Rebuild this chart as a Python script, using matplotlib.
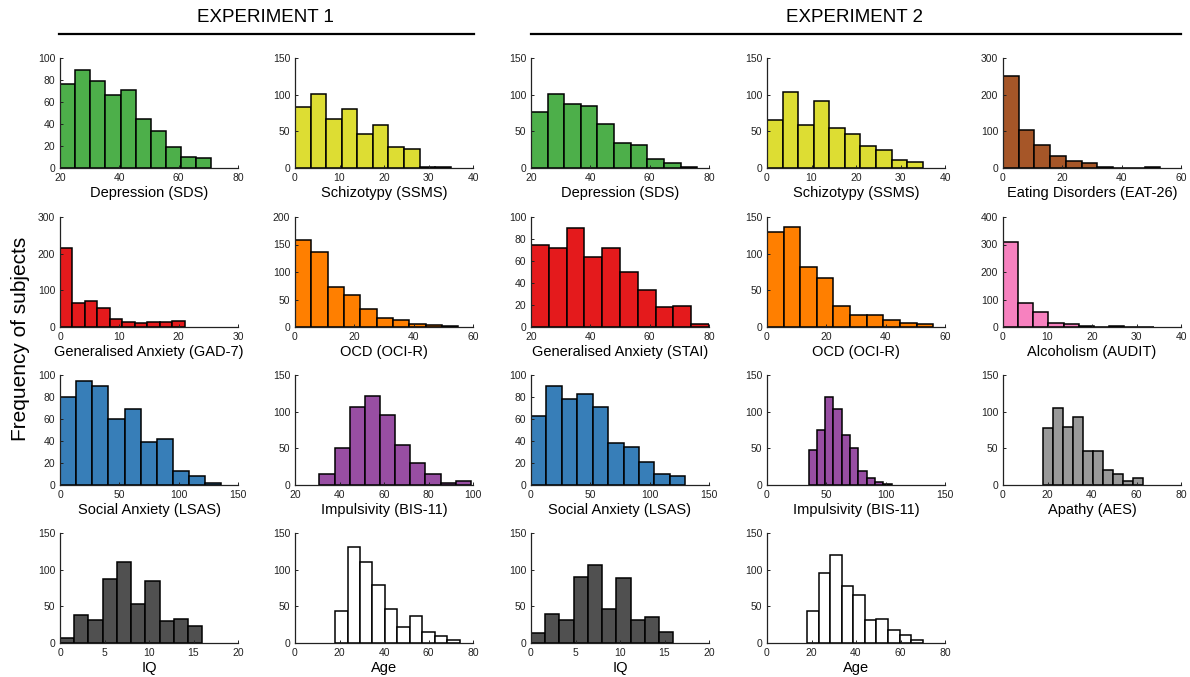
import numpy as np
import matplotlib.pyplot as plt
from matplotlib.lines import Line2D

plt.rcParams['font.family'] = ['Liberation Sans', 'DejaVu Sans']

# histogram counts per questionnaire, with the score range the bins cover
# experiment 1
e1_sds = [76, 89, 79, 66, 71, 45, 34, 19, 10, 9]
e1_sds_range = (20, 71)
e1_ssms = [83, 101, 67, 80, 47, 59, 29, 26, 2, 2]
e1_ssms_range = (0, 35)
e1_gad7 = [215, 65, 71, 52, 23, 15, 11, 14, 13, 17]
e1_gad7_range = (0, 21)
e1_ocir = [158, 137, 72, 59, 32, 17, 12, 6, 4, 1]
e1_ocir_range = (0, 55)
e1_lsas = [80, 95, 90, 60, 69, 39, 42, 13, 8, 2]
e1_lsas_range = (0, 136)
e1_bis = [15, 51, 107, 122, 95, 54, 30, 15, 3, 5]
e1_bis_range = (31, 99)
e1_iq = [7, 38, 31, 87, 111, 53, 85, 30, 33, 23]
e1_iq_range = (0, 16)
e1_age = [44, 131, 111, 79, 46, 22, 37, 15, 9, 4]
e1_age_range = (18, 74)

# experiment 2
e2_sds = [77, 101, 87, 84, 60, 34, 31, 12, 7, 1]
e2_sds_range = (20, 76)
e2_ssms = [65, 104, 59, 91, 55, 47, 30, 24, 11, 8]
e2_ssms_range = (0, 35)
e2_eat = [252, 104, 64, 33, 20, 14, 3, 1, 1, 3]
e2_eat_range = (0, 53)
e2_stai = [75, 72, 90, 64, 72, 50, 34, 18, 19, 3]
e2_stai_range = (20, 80)
e2_ocir = [130, 136, 82, 67, 28, 16, 16, 10, 6, 4]
e2_ocir_range = (0, 56)
e2_audit = [308, 88, 56, 16, 12, 4, 1, 4, 1, 1]
e2_audit_range = (0, 34)
e2_lsas = [63, 90, 78, 83, 71, 38, 35, 21, 10, 8]
e2_lsas_range = (0, 130)
e2_bis = [48, 75, 120, 104, 68, 50, 19, 10, 4, 1]
e2_bis_range = (35, 105)
e2_aes = [78, 105, 79, 93, 47, 47, 20, 15, 6, 9]
e2_aes_range = (18, 63)
e2_iq = [13, 40, 31, 90, 106, 47, 88, 31, 36, 15]
e2_iq_range = (0, 16)
e2_age = [44, 95, 120, 78, 65, 31, 33, 18, 11, 4]
e2_age_range = (18, 70)

GREEN = '#4daf4a'
YELLOW = '#dddd33'
BROWN = '#a65628'
RED = '#e41a1c'
ORANGE = '#ff7f00'
PINK = '#f781bf'
BLUE = '#377eb8'
PURPLE = '#984ea3'
GREY = '#999999'
DARK = '#505050'
WHITE = '#ffffff'

# (row, col, counts, range, colour, xlabel, xlim, xstep, ymax, ystep)
panels = [
    (0, 0, e1_sds, e1_sds_range, GREEN, 'Depression (SDS)', (20, 80), 20, 100, 20),
    (0, 1, e1_ssms, e1_ssms_range, YELLOW, 'Schizotypy (SSMS)', (0, 40), 10, 150, 50),
    (0, 2, e2_sds, e2_sds_range, GREEN, 'Depression (SDS)', (20, 80), 20, 150, 50),
    (0, 3, e2_ssms, e2_ssms_range, YELLOW, 'Schizotypy (SSMS)', (0, 40), 10, 150, 50),
    (0, 4, e2_eat, e2_eat_range, BROWN, 'Eating Disorders (EAT-26)', (0, 60), 20, 300, 100),
    (1, 0, e1_gad7, e1_gad7_range, RED, 'Generalised Anxiety (GAD-7)', (0, 30), 10, 300, 100),
    (1, 1, e1_ocir, e1_ocir_range, ORANGE, 'OCD (OCI-R)', (0, 60), 20, 200, 50),
    (1, 2, e2_stai, e2_stai_range, RED, 'Generalised Anxiety (STAI)', (20, 80), 20, 100, 20),
    (1, 3, e2_ocir, e2_ocir_range, ORANGE, 'OCD (OCI-R)', (0, 60), 20, 150, 50),
    (1, 4, e2_audit, e2_audit_range, PINK, 'Alcoholism (AUDIT)', (0, 40), 10, 400, 100),
    (2, 0, e1_lsas, e1_lsas_range, BLUE, 'Social Anxiety (LSAS)', (0, 150), 50, 100, 20),
    (2, 1, e1_bis, e1_bis_range, PURPLE, 'Impulsivity (BIS-11)', (20, 100), 20, 150, 50),
    (2, 2, e2_lsas, e2_lsas_range, BLUE, 'Social Anxiety (LSAS)', (0, 150), 50, 100, 20),
    (2, 3, e2_bis, e2_bis_range, PURPLE, 'Impulsivity (BIS-11)', (0, 150), 50, 150, 50),
    (2, 4, e2_aes, e2_aes_range, GREY, 'Apathy (AES)', (0, 80), 20, 150, 50),
    (3, 0, e1_iq, e1_iq_range, DARK, 'IQ', (0, 20), 5, 150, 50),
    (3, 1, e1_age, e1_age_range, WHITE, 'Age', (0, 80), 20, 150, 50),
    (3, 2, e2_iq, e2_iq_range, DARK, 'IQ', (0, 20), 5, 150, 50),
    (3, 3, e2_age, e2_age_range, WHITE, 'Age', (0, 80), 20, 150, 50),
]

W, H = 1190, 677
col_left = [60, 295, 531, 767, 1003]
row_bottom = [168, 327, 485, 643]
ax_w, ax_h = 178, 110

fig = plt.figure(figsize=(W / 100, H / 100), dpi=100)

for row, col, counts, (lo, hi), colour, label, xlim, xstep, ymax, ystep in panels:
    ax = fig.add_axes([col_left[col] / W, 1 - row_bottom[row] / H, ax_w / W, ax_h / H])
    edges = np.linspace(lo, hi, len(counts) + 1)
    ax.bar(edges[:-1], counts, width=np.diff(edges), align='edge',
           color=colour, edgecolor='black', linewidth=1.1)
    ax.set_xlim(*xlim)
    ax.set_ylim(0, ymax)
    ax.set_xticks(np.arange(xlim[0], xlim[1] + 0.1, xstep))
    ax.set_yticks(np.arange(0, ymax + 0.1, ystep))
    for side in ('top', 'right'):
        ax.spines[side].set_visible(False)
    for side in ('left', 'bottom'):
        ax.spines[side].set_linewidth(0.9)
        ax.spines[side].set_color('#222222')
    ax.tick_params(direction='in', length=2.5, width=0.7, labelsize=7.5,
                   pad=3.5, colors='#222222')
    ax.set_xlabel(label, fontsize=10.5, labelpad=2.5)

fig.text(0.017, 0.5, 'Frequency of subjects', rotation=90, fontsize=15,
         ha='center', va='center')

# experiment headers with rules underneath
fig.text(265 / W, 1 - 18 / H, 'EXPERIMENT 1', fontsize=13.5, ha='center', va='center')
fig.text(855 / W, 1 - 18 / H, 'EXPERIMENT 2', fontsize=13.5, ha='center', va='center')
fig.add_artist(Line2D([59 / W, 474 / W], [1 - 34 / H] * 2, color='black', lw=1.6))
fig.add_artist(Line2D([531 / W, 1181 / W], [1 - 34 / H] * 2, color='black', lw=1.6))

fig.savefig('out.png', dpi=100, facecolor='white')
